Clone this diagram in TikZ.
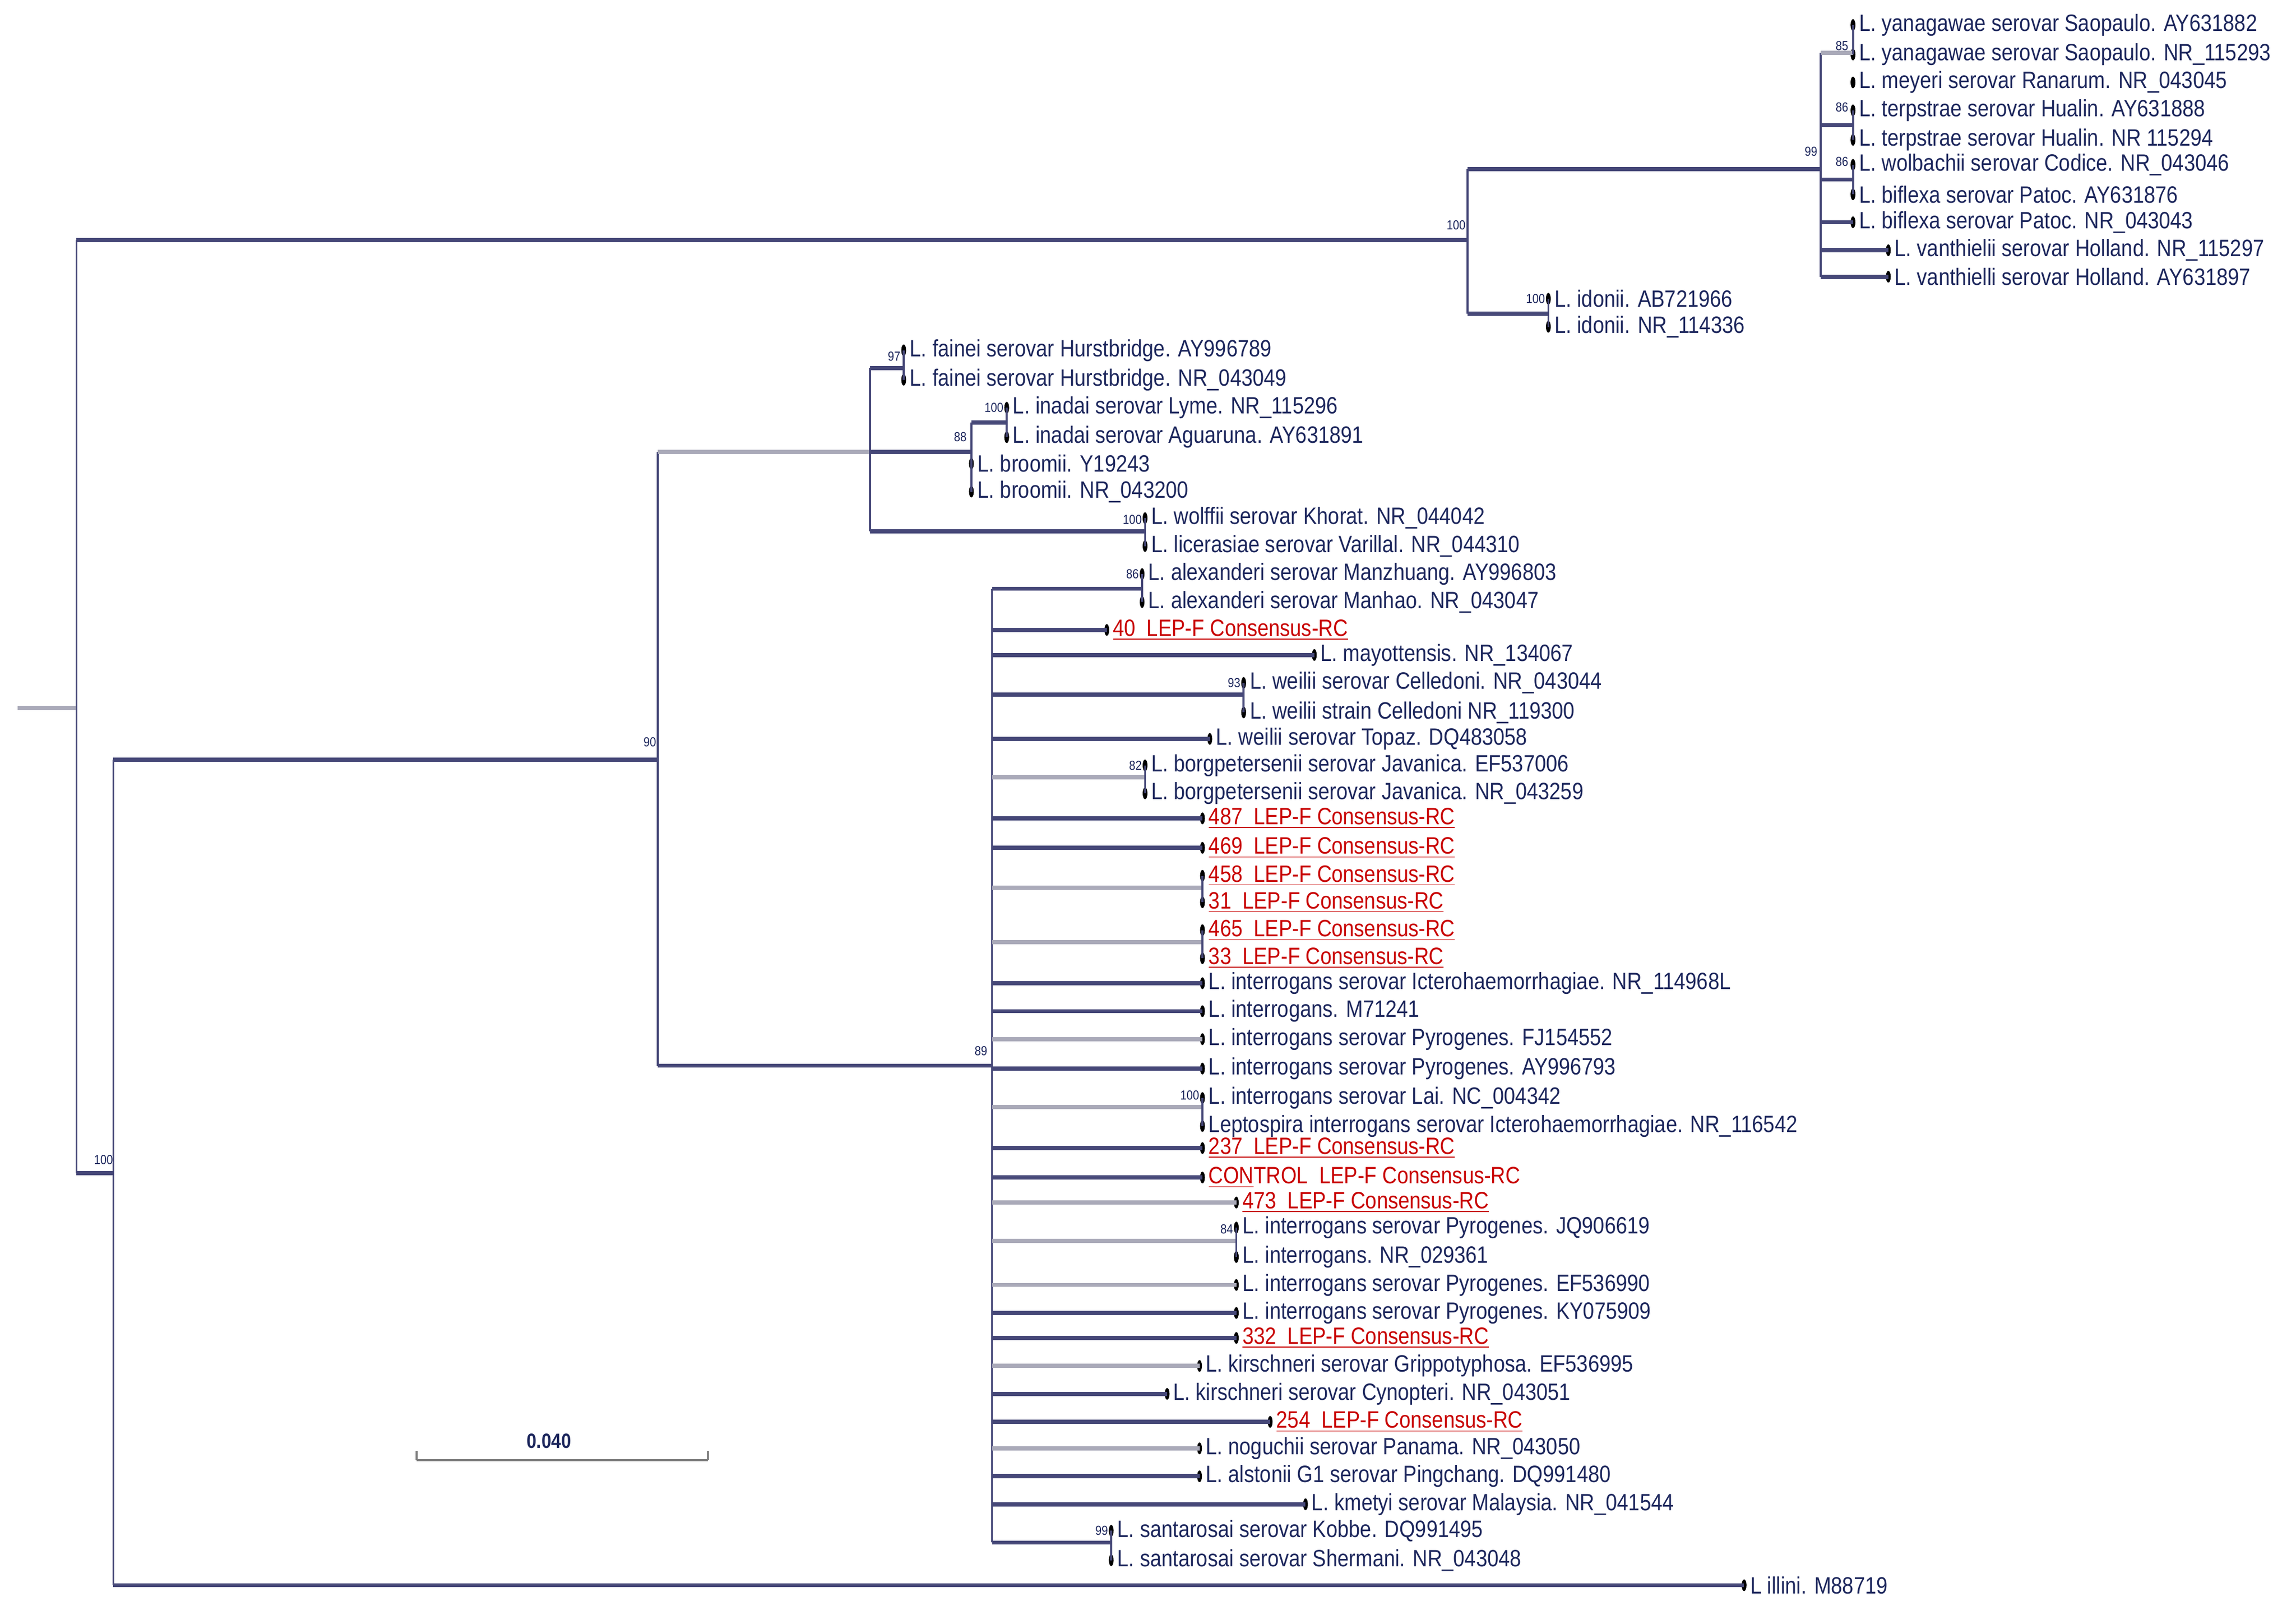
\documentclass[tikz,border=0pt]{standalone}
\usepackage{fontspec}
\setmainfont{Liberation Sans}
\newfontfamily\narrowf{Liberation Sans}[FakeStretch=0.86]
\usetikzlibrary{shapes.geometric}
\definecolor{navy}{RGB}{70,72,120}
\definecolor{lightbr}{RGB}{170,170,185}
\definecolor{txt}{RGB}{28,38,92}
\definecolor{redt}{RGB}{200,0,0}
\tikzset{
 br/.style={line width=2.2pt,draw=navy},
 lb/.style={line width=2.2pt,draw=lightbr},
 vl/.style={line width=1.1pt,draw=navy},
 dot/.style={ellipse,fill=black,minimum width=0.09cm,minimum height=0.22cm,inner sep=0pt},
 lab/.style={anchor=west,inner sep=0pt,text=txt,font=\narrowf\fontsize{12.6}{12.6}\selectfont},
 rlab/.style={lab,text=redt},
 bs/.style={anchor=east,inner sep=0pt,text=txt,font=\narrowf\fontsize{7}{7}\selectfont},
}
\newcommand\tip[4]{\node[dot] (#1) at (#2,#3) {}; \node[lab] (#1l) at (#2+4,#3) {#4};}
\newcommand\rtip[4]{\node[dot] (#1) at (#2,#3) {}; \node[rlab] (#1l) at (#2+4,#3) {#4};}
\newcommand\hb[3][br]{\draw[#1] (#2 |- #3) -- (#3.center);}
\newcommand\vb[3]{\draw[vl] (#1 |- #2) -- (#1 |- #3);}
\begin{document}
\begin{tikzpicture}[x=0.02759cm,y=-0.02759cm]
\useasboundingbox (0,0) rectangle (1560,1087.4);
% internal nodes
\coordinate (r0) at (12,481); \coordinate (R) at (52,481);
\coordinate (A) at (997,163); \coordinate (U) at (1237,115); \coordinate (I) at (1052,213);
\coordinate (Y) at (1259,36); \coordinate (T) at (1259,85); \coordinate (W) at (1259,122);
\coordinate (B) at (77,797); \coordinate (C) at (447,516); \coordinate (D) at (591,307);
\coordinate (E) at (674,724); \coordinate (F) at (614,250); \coordinate (N) at (660,307);
\coordinate (In) at (684,287); \coordinate (Wo) at (778,361); \coordinate (Al) at (776,400);
\coordinate (We) at (845,472); \coordinate (Bo) at (778,528); \coordinate (P1) at (817,603);
\coordinate (P2) at (817,640); \coordinate (La) at (817,752); \coordinate (J) at (840,843);
\coordinate (Sa) at (755,1048);
% tips
\tip{ya1}{1259}{17}{L. yanagawae serovar Saopaulo. AY631882}
\tip{ya2}{1259}{37}{L. yanagawae serovar Saopaulo. NR\_115293}
\tip{me}{1259}{56}{L. meyeri serovar Ranarum. NR\_043045}
\tip{te1}{1259}{75}{L. terpstrae serovar Hualin. AY631888}
\tip{te2}{1259}{95}{L. terpstrae serovar Hualin. NR 115294}
\tip{wo}{1259}{112}{L. wolbachii serovar Codice. NR\_043046}
\tip{bi1}{1259}{132}{L. biflexa serovar Patoc. AY631876}
\tip{bi2}{1259}{151}{L. biflexa serovar Patoc. NR\_043043}
\tip{va1}{1283}{170}{L. vanthielii serovar Holland. NR\_115297}
\tip{va2}{1283}{188}{L. vanthielli serovar Holland. AY631897}
\tip{id1}{1052}{203}{L. idonii. AB721966}
\tip{id2}{1052}{222}{L. idonii. NR\_114336}
\tip{fa1}{614}{238}{L. fainei serovar Hurstbridge. AY996789}
\tip{fa2}{614}{258}{L. fainei serovar Hurstbridge. NR\_043049}
\tip{in1}{684}{277}{L. inadai serovar Lyme. NR\_115296}
\tip{in2}{684}{297}{L. inadai serovar Aguaruna. AY631891}
\tip{bm1}{660}{315}{L. broomii. Y19243}
\tip{bm2}{660}{334}{L. broomii. NR\_043200}
\tip{wf}{778}{352}{L. wolffii serovar Khorat. NR\_044042}
\tip{lc}{778}{371}{L. licerasiae serovar Varillal. NR\_044310}
\tip{al1}{776}{390}{L. alexanderi serovar Manzhuang. AY996803}
\tip{al2}{776}{409}{L. alexanderi serovar Manhao. NR\_043047}
\rtip{s40}{752}{428}{\underline{40\ \ LEP-F Consensus-RC}}
\tip{my}{893}{445}{L. mayottensis. NR\_134067}
\tip{we1}{845}{464}{L. weilii serovar Celledoni. NR\_043044}
\tip{we2}{845}{484}{L. weilii strain Celledoni NR\_119300}
\tip{wt}{822}{502}{L. weilii serovar Topaz. DQ483058}
\tip{bo1}{778}{520}{L. borgpetersenii serovar Javanica. EF537006}
\tip{bo2}{778}{539}{L. borgpetersenii serovar Javanica. NR\_043259}
\rtip{s487}{817}{556}{\underline{487\ \ LEP-F Consensus-RC}}
\rtip{s469}{817}{576}{\underline{469\ \ LEP-F Consensus-RC}}
\rtip{s458}{817}{595}{\underline{458\ \ LEP-F Consensus-RC}}
\rtip{s31}{817}{613}{\underline{31\ \ LEP-F Consensus-RC}}
\rtip{s465}{817}{632}{\underline{465\ \ LEP-F Consensus-RC}}
\rtip{s33}{817}{651}{\underline{33\ \ LEP-F Consensus-RC}}
\tip{ic}{817}{668}{L. interrogans serovar Icterohaemorrhagiae. NR\_114968L}
\tip{m7}{817}{687}{L. interrogans. M71241}
\tip{fj}{817}{706}{L. interrogans serovar Pyrogenes. FJ154552}
\tip{ay}{817}{726}{L. interrogans serovar Pyrogenes. AY996793}
\tip{la1}{817}{746}{L. interrogans serovar Lai. NC\_004342}
\tip{la2}{817}{765}{Leptospira interrogans serovar Icterohaemorrhagiae. NR\_116542}
\rtip{s237}{817}{780}{\underline{237\ \ LEP-F Consensus-RC}}
\rtip{ctl}{817}{800}{\underline{CON}TROL\ \ LEP-F Consensus-RC}
\rtip{s473}{840}{817}{\underline{473\ \ LEP-F Consensus-RC}}
\tip{jq}{840}{834}{L. interrogans serovar Pyrogenes. JQ906619}
\tip{nr}{840}{854}{L. interrogans. NR\_029361}
\tip{ef}{840}{873}{L. interrogans serovar Pyrogenes. EF536990}
\tip{ky}{840}{892}{L. interrogans serovar Pyrogenes. KY075909}
\rtip{s332}{840}{909}{\underline{332\ \ LEP-F Consensus-RC}}
\tip{ki1}{815}{928}{L. kirschneri serovar Grippotyphosa. EF536995}
\tip{ki2}{793}{947}{L. kirschneri serovar Cynopteri. NR\_043051}
\rtip{s254}{863}{966}{\underline{254\ \ LEP-F Consensus-RC}}
\tip{no}{815}{984}{L. noguchii serovar Panama. NR\_043050}
\tip{als}{815}{1003}{L. alstonii G1 serovar Pingchang. DQ991480}
\tip{km}{887}{1022}{L. kmetyi serovar Malaysia. NR\_041544}
\tip{sa1}{755}{1040}{L. santarosai serovar Kobbe. DQ991495}
\tip{sa2}{755}{1060}{L. santarosai serovar Shermani. NR\_043048}
\tip{il}{1185}{1077}{L illini. M88719}
% branches
\draw[lb] (r0) -- (R);
\vb{R}{A}{B}
\draw[br] (R |- A) -- (A); \draw[br] (R |- B) -- (B);
\vb{A}{U}{I} \draw[br] (A |- U) -- (U); \draw[br] (A |- I) -- (I);
\vb{U}{Y}{va2}
\draw[lb] (U |- Y) -- (Y); \draw[br] (U |- T) -- (T); \draw[br] (U |- W) -- (W);
\hb{U}{bi2} \hb{U}{va1} \hb{U}{va2}
\vb{Y}{ya1}{ya2} \vb{T}{te1}{te2} \vb{W}{wo}{bi1} \vb{I}{id1}{id2}
\vb{B}{C}{il} \draw[br] (B |- C) -- (C); \hb{B}{il}
\vb{C}{D}{E} \draw[lb] (C |- D) -- (D); \draw[br] (C |- E) -- (E);
\vb{D}{F}{Wo}
\draw[br] (D |- F) -- (F); \draw[br] (D |- N) -- (N); \draw[br] (D |- Wo) -- (Wo);
\vb{F}{fa1}{fa2}
\vb{N}{In}{bm2} \draw[br] (N |- In) -- (In); \vb{In}{in1}{in2}
\vb{Wo}{wf}{lc}
\vb{E}{Al}{Sa}
\draw[br] (E |- Al) -- (Al); \vb{Al}{al1}{al2}
\hb{E}{s40} \hb{E}{my}
\draw[br] (E |- We) -- (We); \vb{We}{we1}{we2}
\hb{E}{wt}
\draw[lb] (E |- Bo) -- (Bo); \vb{Bo}{bo1}{bo2}
\hb{E}{s487} \hb{E}{s469}
\draw[lb] (E |- P1) -- (P1); \vb{P1}{s458}{s31}
\draw[lb] (E |- P2) -- (P2); \vb{P2}{s465}{s33}
\hb{E}{ic} \hb{E}{m7} \hb[lb]{E}{fj} \hb{E}{ay}
\draw[lb] (E |- La) -- (La); \vb{La}{la1}{la2}
\hb{E}{s237} \hb{E}{ctl} \hb[lb]{E}{s473}
\draw[lb] (E |- J) -- (J); \vb{J}{jq}{nr}
\hb[lb]{E}{ef} \hb{E}{ky} \hb{E}{s332} \hb[lb]{E}{ki1} \hb{E}{ki2} \hb{E}{s254}
\hb[lb]{E}{no} \hb{E}{als} \hb{E}{km}
\draw[br] (E |- Sa) -- (Sa); \vb{Sa}{sa1}{sa2}
% bootstrap values
\node[bs] (b1) at (996,153) {100};
\node[bs] (b2) at (1235,103) {99};
\node[bs] (b3) at (1256,31) {85};
\node[bs] (b4) at (1256,73) {86};
\node[bs] (b5) at (1256,110) {86};
\node[bs] (b6) at (1050,203) {100};
\node[bs] (b7) at (612,242) {97};
\node[bs] (b8) at (682,277) {100};
\node[bs] (b9) at (657,297) {88};
\node[bs] (b10) at (776,353) {100};
\node[bs] (b11) at (446,504) {90};
\node[bs] (b12) at (671,714) {89};
\node[bs] (b13) at (774,390) {86};
\node[bs] (b14) at (843,464) {93};
\node[bs] (b15) at (776,520) {82};
\node[bs] (b16) at (815,744) {100};
\node[bs] (b17) at (838,835) {84};
\node[bs] (b18) at (753,1040) {99};
\node[bs] (b19) at (77,788) {100};
% scale bar
\coordinate (sb1) at (283,992); \coordinate (sb2) at (481,992);
\draw[line width=1.2pt,draw=gray] (sb1) -- (sb2);
\draw[line width=1pt,draw=gray] (sb1) -- ++(0,-6) (sb2) -- ++(0,-6);
\node[text=txt,font=\narrowf\fontsize{11}{11}\selectfont\bfseries] (sbl) at (373,979) {0.040};
\end{tikzpicture}
\end{document}
